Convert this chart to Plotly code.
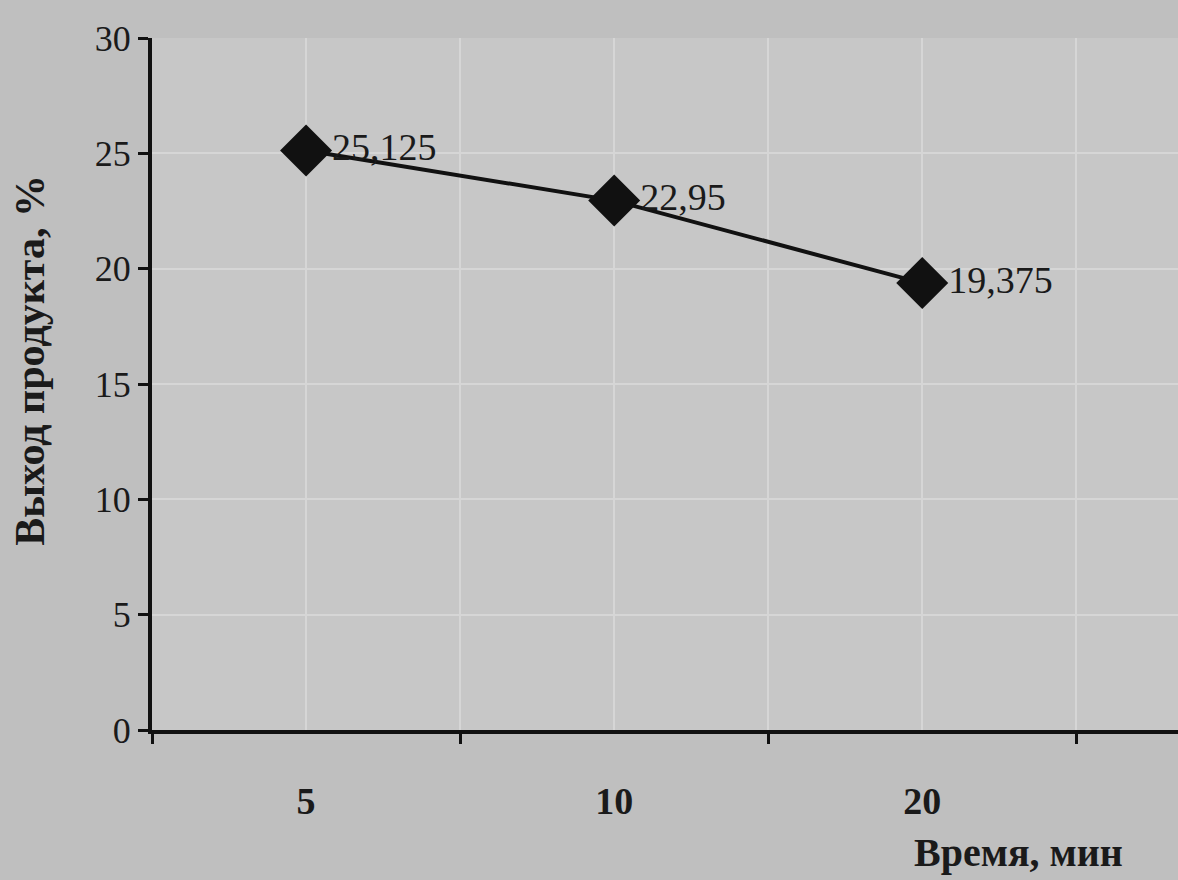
import plotly.graph_objects as go

categories = ["5", "10", "20"]
values = [25.125, 22.95, 19.375]
labels = ["25,125", "22,95", "19,375"]
y_ticks = [0, 5, 10, 15, 20, 25, 30]

x_idx = list(range(len(categories)))
font_family = "Liberation Serif"

fig = go.Figure()
fig.add_trace(go.Scatter(
    x=x_idx, y=values, mode="lines+markers+text",
    text=labels, textposition="middle right",
    textfont=dict(family=font_family, size=38, color="#1a1a1a"),
    line=dict(color="#111111", width=4),
    marker=dict(symbol="diamond", size=40, color="#111111"),
    showlegend=False, cliponaxis=False,
))

fig.update_layout(
    width=1178, height=880,
    margin=dict(l=152, r=0, t=38, b=150),
    paper_bgcolor="#bfbfbf", plot_bgcolor="#c7c7c7",
    font=dict(family=font_family, size=34, color="#1a1a1a"),
)
fig.update_xaxes(
    range=[-0.5, 2.83], tickvals=x_idx, ticktext=categories,
    ticks="", showgrid=True, gridcolor="#d6d6d6", gridwidth=2,
    tickfont=dict(family=font_family, size=38, color="#1a1a1a", weight="bold"),
    ticklabelstandoff=34,
    minor=dict(tickvals=[-0.5, 0.5, 1.5, 2.5], ticks="outside", ticklen=10,
               tickwidth=3, tickcolor="#111111", showgrid=True,
               gridcolor="#d6d6d6", gridwidth=2),
    showline=True, linecolor="#111111", linewidth=4, zeroline=False,
)
fig.update_yaxes(
    range=[0, 30], tickvals=y_ticks, ticks="outside", ticklen=10, tickwidth=3,
    tickcolor="#111111", showgrid=True, gridcolor="#d6d6d6", gridwidth=2,
    tickfont=dict(family=font_family, size=36, color="#1a1a1a"),
    showline=True, linecolor="#111111", linewidth=4, zeroline=False,
)
fig.add_annotation(
    text="Выход продукта, %", xref="paper", yref="paper", x=-0.119, y=0.535,
    xanchor="center", yanchor="middle", textangle=-90, showarrow=False,
    font=dict(family=font_family, size=42, color="#1a1a1a", weight="bold"),
)
fig.add_annotation(
    text="Время, мин", xref="paper", yref="paper", x=0.845, y=-0.177,
    xanchor="center", yanchor="middle", showarrow=False,
    font=dict(family=font_family, size=40, color="#1a1a1a", weight="bold"),
)

fig.write_html("out.html", config={"displayModeBar": False},
               post_script="document.body.style.margin='0';")
